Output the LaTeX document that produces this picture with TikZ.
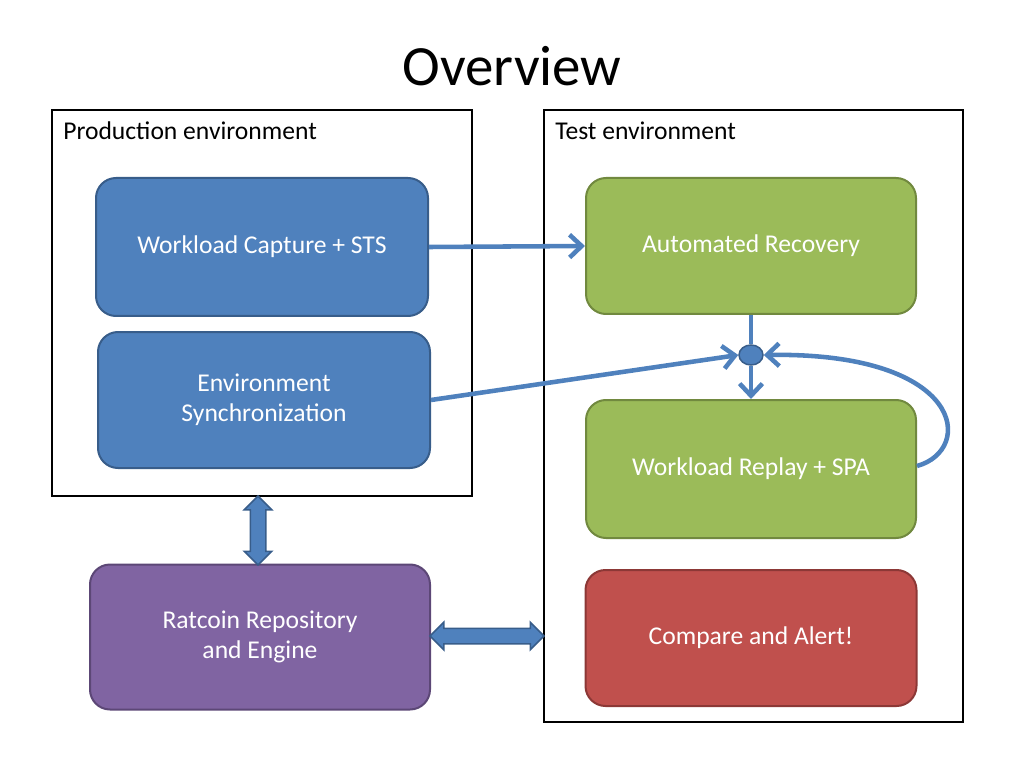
\documentclass[tikz,border=0pt]{standalone}
\usepackage{fontspec}
\setmainfont{Carlito}
\usetikzlibrary{arrows.meta,shapes.arrows,shapes.geometric}

\newdimen\unitpx
\unitpx=0.703125pt

\definecolor{blueFill}{HTML}{4F81BD}
\definecolor{blueLine}{HTML}{385D8A}
\definecolor{greenFill}{HTML}{9BBB59}
\definecolor{greenLine}{HTML}{71893F}
\definecolor{redFill}{HTML}{C0504D}
\definecolor{redLine}{HTML}{8C3836}
\definecolor{purpleFill}{HTML}{8064A2}
\definecolor{purpleLine}{HTML}{5C4776}

\tikzset{
    envbox/.style={draw=black, line width=2\unitpx},
    envlabel/.style={anchor=west, inner sep=0pt, font=\fontsize{18}{21}\selectfont},
    stagebox/.style={rounded corners=20\unitpx, line width=2\unitpx, text=white,
        align=center, font=\fontsize{18}{21}\selectfont, inner sep=0pt},
    flow/.style={draw=blueFill, line width=3.2pt,
        -{Straight Barb[length=8.5pt,width=16pt]}},
    bigarrow/.style={double arrow, draw=blueLine, fill=blueFill, line width=1.5\unitpx,
        inner sep=7\unitpx, double arrow head extend=6\unitpx}
}

\begin{document}
\begin{tikzpicture}[x=\unitpx, y=-\unitpx]
    \useasboundingbox (0,0) rectangle (1024,768);

    % Title
    \node[font=\fontsize{40}{48}\selectfont] (title) at (512,66) {Overview};

    % Environments
    \draw[envbox] (52,110) rectangle (472,496);
    \node[envlabel] (prodlabel) at (63,131) {Production environment};
    \draw[envbox] (544,110) rectangle (963,722);
    \node[envlabel] (testlabel) at (555,131) {Test environment};

    % Production side
    \node[stagebox, draw=blueLine, fill=blueFill, minimum width=332\unitpx, minimum height=138\unitpx]
        (capture) at (262,247) {Workload Capture + STS};
    \node[stagebox, draw=blueLine, fill=blueFill, minimum width=332\unitpx, minimum height=136\unitpx]
        (sync) at (264,400) {Environment\\Synchronization};
    \node[stagebox, draw=purpleLine, fill=purpleFill, minimum width=340\unitpx, minimum height=145\unitpx]
        (repo) at (260,637) {Ratcoin Repository\\and Engine};

    % Test side
    \node[stagebox, draw=greenLine, fill=greenFill, minimum width=330\unitpx, minimum height=136\unitpx]
        (recovery) at (751,246) {Automated Recovery};
    \node[stagebox, draw=greenLine, fill=greenFill, minimum width=330\unitpx, minimum height=138\unitpx]
        (replay) at (751,469) {Workload Replay + SPA};
    \node[stagebox, draw=redLine, fill=redFill, minimum width=331\unitpx, minimum height=136\unitpx]
        (compare) at (751,638) {Compare and Alert!};

    % Junction
    \node[ellipse, draw=blueLine, fill=blueFill, line width=1.5\unitpx,
        minimum width=24\unitpx, minimum height=20\unitpx, inner sep=0pt] (join) at (751,355) {};

    % Connectors
    \draw[flow] (capture.east) -- (recovery.west);
    \draw[draw=blueFill, line width=3.2pt] (recovery.south) -- (join.north);
    \draw[flow] (join.south) -- (replay.north);
    \draw[flow] (sync.east) -- (join.west);
    \draw[flow] (replay.east |- 0,466) .. controls (975,450) and (965,352) .. (join.east);

    % Block arrows
    \node[bigarrow, rotate=90, minimum height=69\unitpx] (prodlink) at (258,530.5) {};
    \node[bigarrow, minimum height=114\unitpx] (testlink) at (487,636) {};

\end{tikzpicture}
\end{document}
